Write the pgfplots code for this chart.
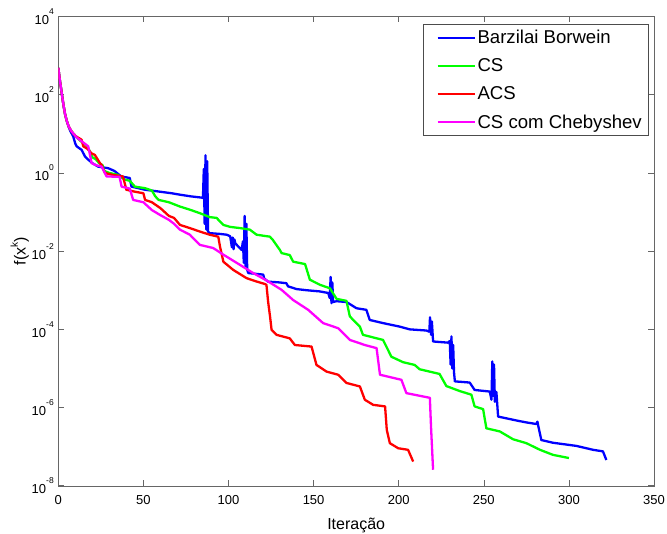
\documentclass[border=0pt]{standalone}
\usepackage{fontspec}
\setmainfont{Liberation Sans}
\usepackage{pgfplots}
\pgfplotsset{compat=1.18}
\newcommand{\ex}[1]{10\raisebox{1.45ex}{\fontsize{8.5}{8.5}\selectfont #1}}
\begin{document}
\begin{tikzpicture}
\begin{axis}[
  scale only axis, width=596pt, height=469.5pt,
  xmin=0, xmax=350, ymin=-8, ymax=4,
  xtick={0,50,...,350}, ytick={-8,-6,...,4},
  yticklabels={\ex{-8},\ex{-6},\ex{-4},\ex{-2},\ex{0},\ex{2},\ex{4}},
  tick align=inside, major tick length=6pt,
  axis line style={black!60}, tick style={black!60, line width=0.6pt},
  ticklabel style={font=\fontsize{13}{15}\selectfont},
  xticklabel style={yshift=-6pt},
  yticklabel style={xshift=-1pt},
  /pgf/number format/assume math mode=true,
  xlabel={Iteração}, ylabel={f(x\raisebox{0.9ex}{\fontsize{10}{10}\selectfont k})},
  label style={font=\fontsize{16}{18}\selectfont},
  xlabel style={yshift=-7pt},
  ylabel style={yshift=-4pt},
  legend cell align=left,
  legend style={at={(1,1)}, anchor=north east, xshift=-6pt, yshift=-7.5pt,
    draw=black!70, font=\fontsize{18.6}{21}\selectfont, row sep=9.5pt,
    inner xsep=4pt, inner ysep=4pt},
  legend image code/.code={\path (0pt,0pt); \draw[#1, line width=2pt] (9pt,0pt) -- (46pt,0pt);},
  every axis plot/.append style={line width=2.3pt, line join=round},
]
\addplot[color={rgb,255:red,0;green,0;blue,255}] coordinates {
(0,2.69)(1,2.35)(2,2.05)(3,1.75)(4,1.5)(5,1.33)(6,1.19)(7,1.08)(8.8,0.93)(10,0.75)
(10.8,0.68)(13.7,0.59)(15.7,0.42)(17.6,0.34)(20,0.25)(23.5,0.16)(29.4,0.12)(33,0.05)
(37,-0.09)(42,-0.13)(43,-0.35)(51,-0.43)(58,-0.47)(66.6,-0.52)(72,-0.56)(78,-0.6)
(84,-0.63)(85,-0.64)(85.5,0.1)(86,-1.3)(86.5,0.45)(87,-1.45)(87.5,0.3)(88,-1.5)
(89,-1.54)(95,-1.56)(99,-1.58)(101,-1.62)(102,-1.9)(102.5,-1.65)(103,-1.95)(103.5,-1.7)
(104,-1.8)(107.7,-1.97)(108.5,-1.75)(109,-2.3)(109.5,-1.1)(110,-2.4)(110.5,-1.3)
(111,-2.48)(111.6,-2.56)(116,-2.58)(120.4,-2.6)(121,-2.7)(123.3,-2.78)(130,-2.8)
(134,-2.82)(135,-2.9)(140,-2.97)(146,-3.0)(153.7,-3.03)(158.6,-3.07)(159.5,-3.2)
(160,-2.66)(160.5,-3.33)(161,-2.8)(161.5,-3.3)(163.5,-3.28)(169.3,-3.3)(175.2,-3.46)
(181,-3.5)(183,-3.76)(190.8,-3.84)(200.6,-3.93)(206.5,-4.0)(216.3,-4.03)(218,-4.06)
(218.4,-3.69)(219,-4.14)(219.5,-3.8)(220.2,-4.31)(229,-4.34)(230,-4.3)(230.5,-4.9)
(231,-4.18)(231.5,-5.0)(232,-4.4)(232.5,-5.1)(233,-5.33)(241.7,-5.36)(244.6,-5.55)
(253.5,-5.59)(254.5,-5.8)(255,-4.82)(255.5,-5.7)(256,-4.9)(256.5,-5.85)(257.4,-5.6)
(258.4,-6.23)(269.2,-6.33)(275,-6.38)(280.9,-6.42)(281.5,-6.36)(282.3,-6.53)
(283.8,-6.83)(290.7,-6.9)(304.4,-6.98)(314.2,-7.08)(320,-7.12)(322,-7.34)
};
\addplot[color={rgb,255:red,0;green,255;blue,0}] coordinates {
(0,2.69)(1,2.35)(2,2.05)(3,1.75)(4,1.5)(5,1.33)(6,1.2)(7,1.12)(8,1.05)(9,1.0)(10,0.95)
(11,0.9)(13,0.82)(15,0.75)(17,0.68)(18,0.6)(20,0.4)(22,0.35)(24,0.25)(26,0.2)(27,0.05)
(30,0.0)(35,-0.05)(39,-0.17)(42,-0.2)(45,-0.35)(51,-0.39)(55,-0.45)(57,-0.6)(59,-0.69)
(65,-0.75)(71.5,-0.86)(77.3,-0.94)(83.2,-1.03)(89,-1.13)(93,-1.15)(97,-1.33)(101,-1.38)
(106.7,-1.41)(112.5,-1.45)(116.5,-1.58)(124.3,-1.63)(126,-1.71)(130.2,-1.97)(131.2,-2.05)
(136,-2.1)(138,-2.27)(145,-2.33)(147.8,-2.73)(153.7,-2.86)(159.6,-2.95)(163.5,-3.22)
(169.3,-3.27)(171.3,-3.67)(177.2,-3.93)(179,-4.14)(190.8,-4.27)(195.7,-4.7)(202.6,-4.84)
(209.4,-4.91)(212.3,-5.02)(224,-5.14)(228,-5.45)(236,-5.58)(242.7,-5.67)(244.6,-5.97)
(249.6,-6.04)(251.5,-6.53)(259.4,-6.61)(267.2,-6.81)(275,-6.91)(283,-7.08)(290.7,-7.21)
(300,-7.29)
};
\addplot[color={rgb,255:red,255;green,0;blue,0}] coordinates {
(0,2.69)(1,2.35)(2,2.05)(3,1.75)(4,1.5)(5,1.33)(6,1.2)(7,1.12)(8,1.05)(9,1.0)(10,0.95)
(11,0.92)(13.7,0.85)(14.7,0.68)(17,0.62)(19.6,0.5)(21.5,0.46)(24.5,0.25)(25.5,0.2)
(27.4,0.0)(32,-0.05)(38,-0.09)(40,-0.43)(45,-0.48)(50,-0.52)(51,-0.69)(55,-0.75)
(60,-0.9)(65,-1.1)(68,-1.15)(71.5,-1.33)(77.3,-1.41)(83.2,-1.5)(89,-1.58)(94,-1.63)
(95,-1.88)(97,-2.27)(102.8,-2.48)(110.6,-2.69)(116,-2.77)(121.4,-2.84)(122.3,-2.86)
(123.3,-3.3)(124.5,-3.7)(125.3,-4.01)(128.2,-4.14)(136,-4.23)(139,-4.4)(148.8,-4.44)
(151.7,-4.91)(157.6,-5.08)(164.4,-5.16)(169.3,-5.37)(177.2,-5.46)(180.1,-5.8)(185,-5.93)
(192,-5.97)(193,-6.57)(194.8,-6.91)(199.7,-7.04)(205.5,-7.08)(208.5,-7.38)
};
\addplot[color={rgb,255:red,255;green,0;blue,255}] coordinates {
(0,2.69)(1,2.35)(2,2.05)(3,1.75)(4,1.5)(5,1.33)(6,1.2)(7,1.12)(8,1.05)(9,1.0)(10,0.95)
(11,0.9)(14,0.8)(17.6,0.68)(19.6,0.25)(22,0.2)(25.5,0.16)(28.4,-0.09)(36,-0.1)
(37.2,-0.35)(42,-0.4)(44,-0.69)(50,-0.75)(55,-0.95)(60,-1.08)(65,-1.2)(68,-1.3)
(71.5,-1.45)(77.3,-1.58)(83.2,-1.84)(91,-1.92)(97,-2.09)(106.7,-2.35)(114.5,-2.56)
(122.4,-2.75)(131.2,-2.99)(138,-3.25)(146.8,-3.5)(155.6,-3.84)(164.4,-3.97)(171.3,-4.27)
(180.1,-4.4)(187,-4.48)(189,-5.16)(201.6,-5.29)(204.5,-5.63)(218.3,-5.75)(219,-6.5)
(220.2,-7.59)
};
\legend{Barzilai Borwein, CS, ACS, CS com Chebyshev}
\end{axis}
\pgfresetboundingbox
\useasboundingbox (current axis.south west) ++(-58.3pt,-48pt) rectangle ([shift={(13pt,16.5pt)}]current axis.north east);
\end{tikzpicture}
\end{document}
